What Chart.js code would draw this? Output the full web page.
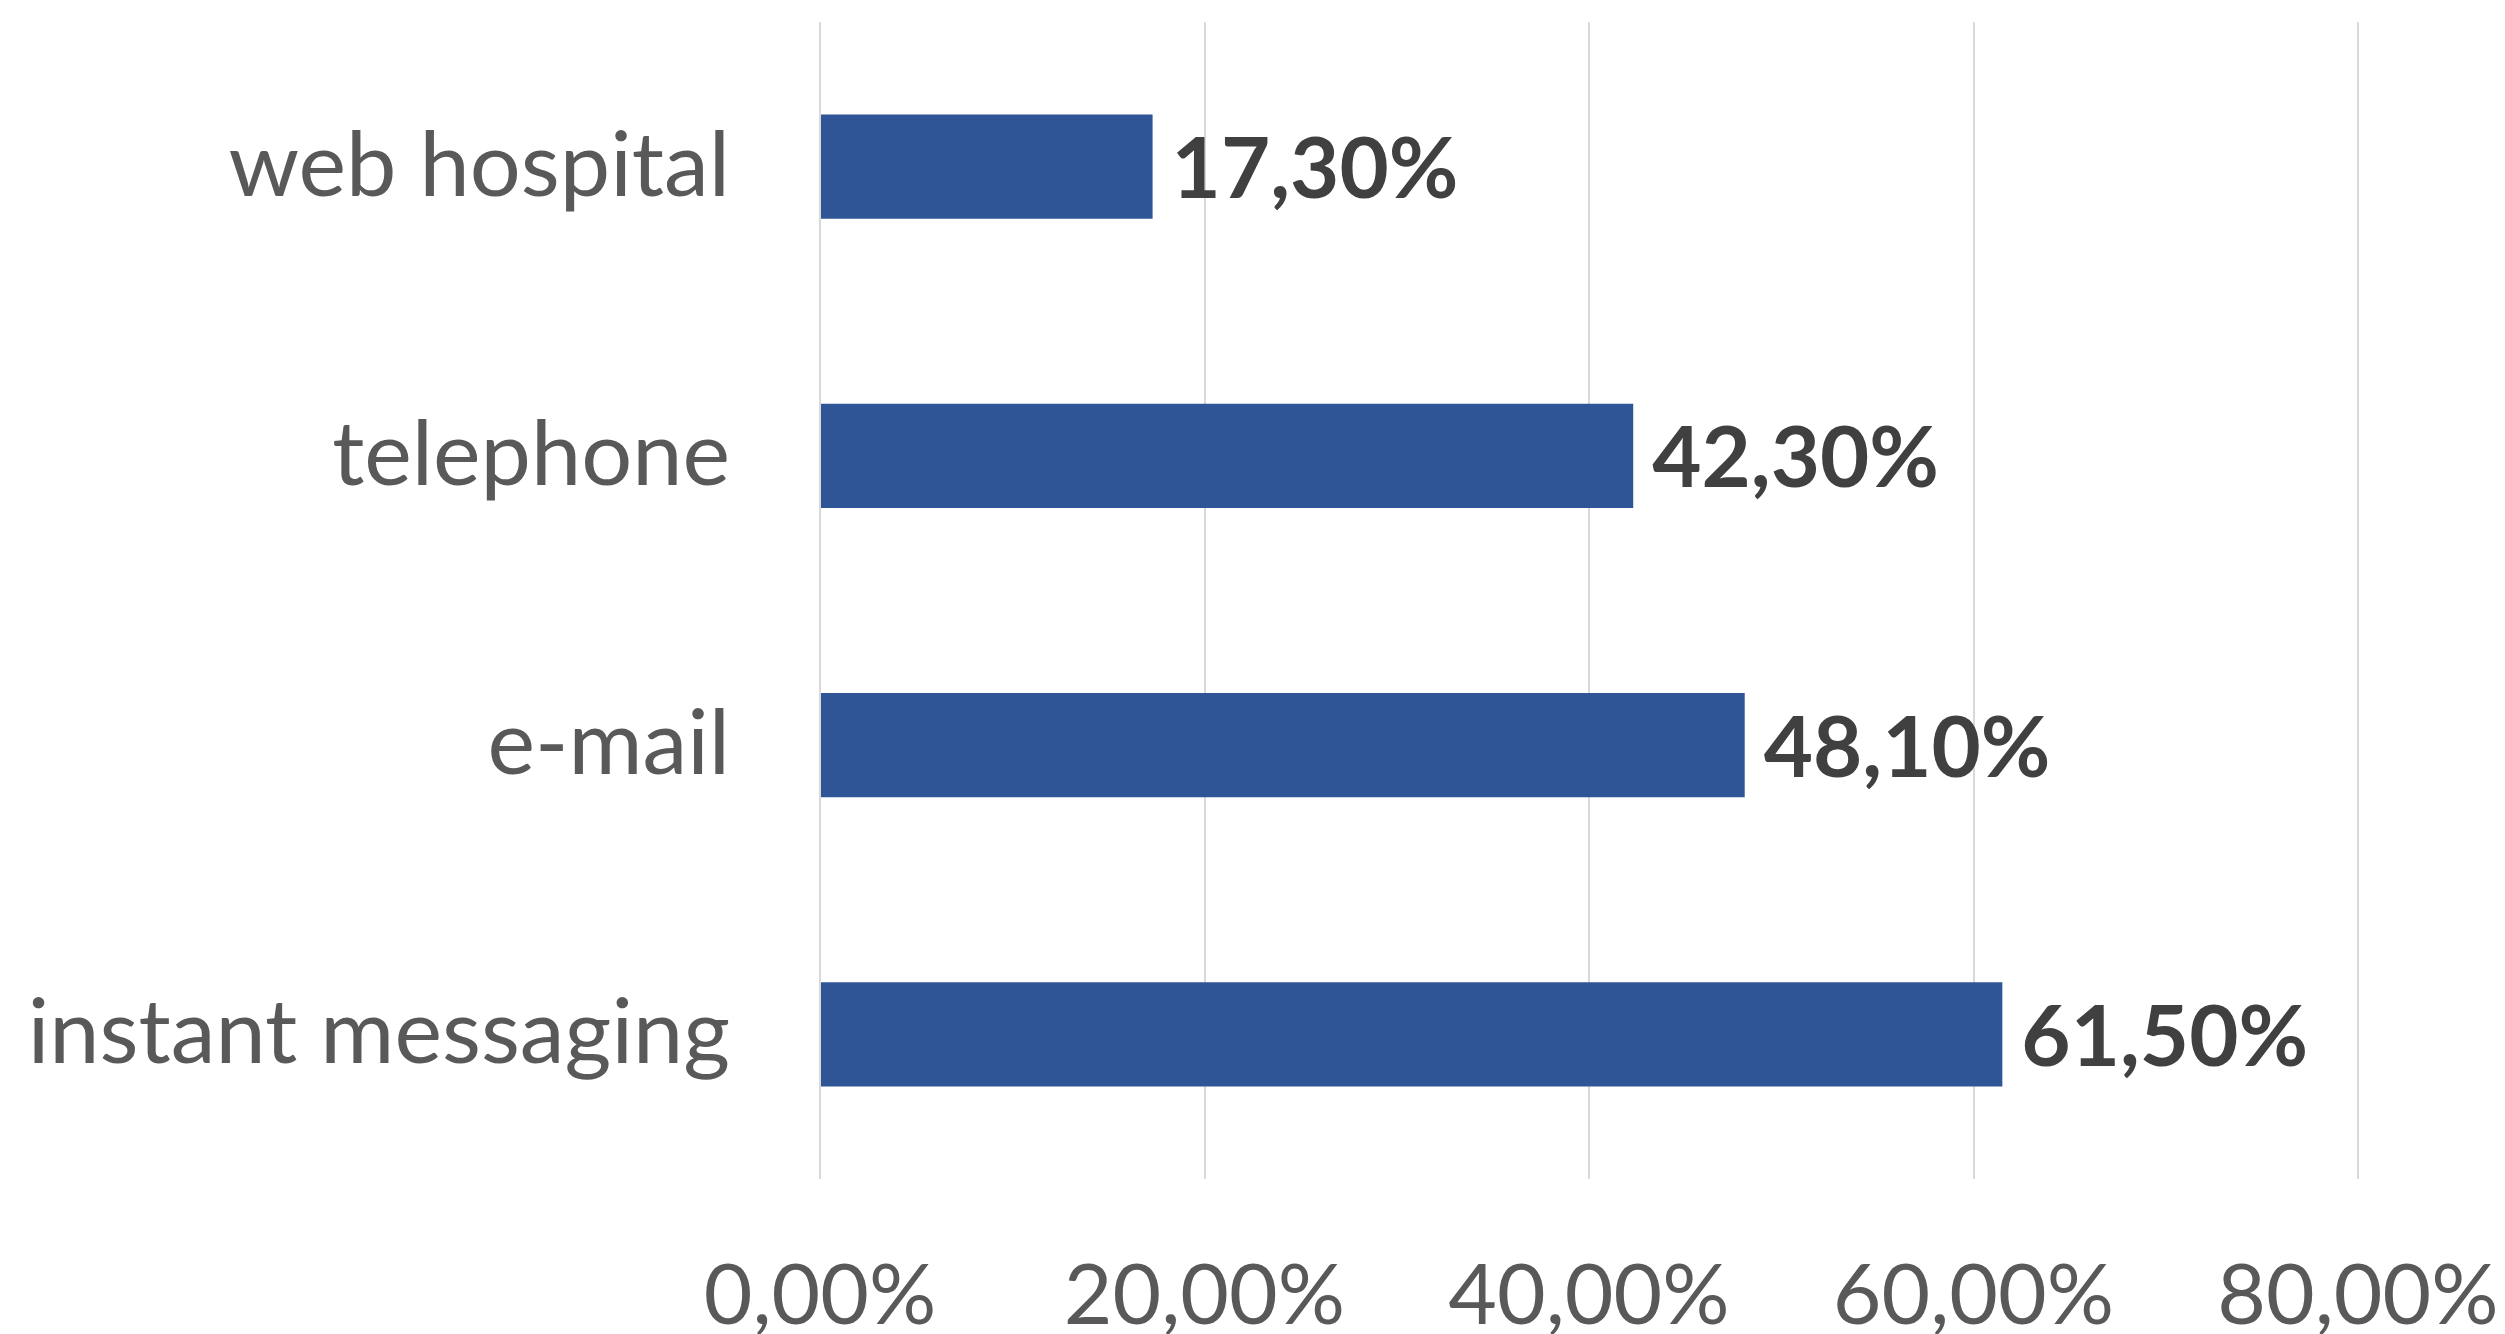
<!DOCTYPE html>
<html>
<head>
<meta charset="utf-8">
<script src="https://cdn.jsdelivr.net/npm/chart.js@4.4.0/dist/chart.umd.min.js"></script>
<style>
  html, body { margin: 0; padding: 0; background: #ffffff; }
  #wrap { width: 2505px; height: 1334px; position: relative; }
</style>
</head>
<body>
<div id="wrap"><canvas id="chart"></canvas></div>
<script>
// data
const categories = ['web hospital', 'telephone', 'e-mail', 'instant messaging'];
const shares = [17.3, 42.3, 48.1, 61.5];
const tickValues = [0, 20, 40, 60, 80];

const fmtPct = v => v.toFixed(2).replace('.', ',') + '%';

// draws the bold value next to each bar end
const barValueLabels = {
    id: 'barValueLabels',
    afterDatasetsDraw(chart) {
        const ctx = chart.ctx;
        const meta = chart.getDatasetMeta(0);
        ctx.save();
        ctx.font = 'bold 85px Lato';
        ctx.fillStyle = '#404040';
        ctx.textAlign = 'left';
        ctx.textBaseline = 'middle';
        meta.data.forEach((bar, i) => {
            ctx.fillText(fmtPct(shares[i]), bar.x + 19, bar.y + 4);
        });
        ctx.restore();
    }
};

const ctx = document.getElementById('chart').getContext('2d');
new Chart(ctx, {
    type: 'bar',
    data: {
        labels: categories,
        datasets: [{
            data: shares,
            backgroundColor: '#2F5597',
            borderWidth: 0,
            categoryPercentage: 1.0,
            barPercentage: 0.36
        }]
    },
    options: {
        indexAxis: 'y',
        responsive: true,
        maintainAspectRatio: false,
        animation: false,
        layout: { padding: { top: 22, right: 147, left: 0, bottom: 0 } },
        scales: {
            x: {
                min: 0,
                max: 80,
                afterBuildTicks: scale => { scale.ticks = tickValues.map(v => ({ value: v })); },
                afterFit: scale => { scale.height = 155; scale.paddingRight = 0; scale.paddingLeft = 0; },
                grid: { color: '#D9D9D9', lineWidth: 2, drawTicks: false },
                border: { display: false },
                ticks: {
                    color: '#595959',
                    font: { family: 'Lato', size: 84 },
                    padding: 68,
                    maxRotation: 0,
                    callback: v => fmtPct(v)
                }
            },
            y: {
                afterFit: scale => { scale.width = 820; scale.paddingTop = 0; scale.paddingBottom = 0; },
                grid: { display: false, drawTicks: false },
                border: { display: false },
                ticks: {
                    color: '#595959',
                    font: { family: 'Lato', size: 90 },
                    padding: 90
                }
            }
        },
        plugins: {
            legend: { display: false },
            tooltip: { enabled: false }
        }
    },
    plugins: [barValueLabels]
});
</script>
</body>
</html>
